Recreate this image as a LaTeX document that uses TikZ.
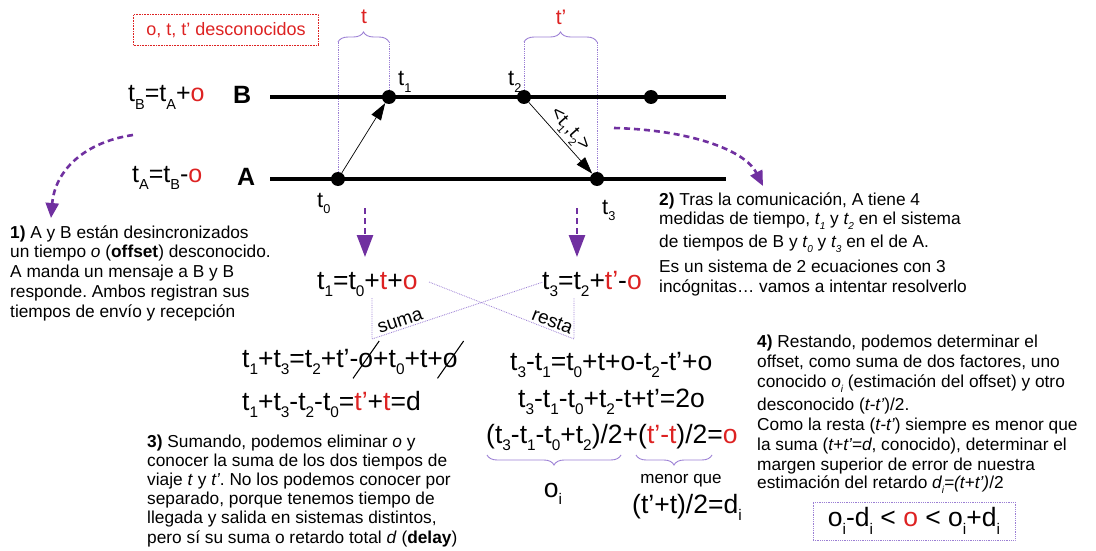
\documentclass[tikz,border=0pt]{standalone}
\usepackage{fontspec}
\setmainfont{Liberation Sans}
\usepackage{graphicx}
\usetikzlibrary{arrows.meta,decorations.pathreplacing}
\definecolor{myred}{HTML}{DD2222}
\definecolor{vio}{HTML}{7030A0}
\definecolor{lav}{HTML}{9B7FD4}
\newcommand\sbs[1]{\raisebox{-0.3em}{\scalebox{0.58}{#1}}}
\newcommand\R[1]{\textcolor{myred}{#1}}
\newcommand\xo{\makebox[0pt][l]{\hspace{-0.22em}\raisebox{-0.44em}{\rotatebox{55}{\rule{1.72em}{0.04em}}}}o}
\frenchspacing
\begin{document}
\begin{tikzpicture}[x=1pt,y=-1pt,
  dot/.style={circle,fill=black,inner sep=0pt,minimum size=14pt},
  tline/.style={line width=4pt},
  msg/.style={-{Triangle[length=17pt,width=11pt]}, line width=0.7pt},
  guide/.style={lav, densely dotted, line width=0.8pt},
  brc/.style={lav, line width=0.9pt, decorate, decoration={brace, amplitude=10pt}},
  flow/.style={vio, line width=2.6pt, dash pattern=on 6pt off 4pt, -{Triangle[length=15pt,width=13pt]}},
  txt/.style={inner sep=0pt, anchor=base west},
  eq/.style={inner sep=0pt, anchor=base west, font=\fontsize{26.5}{30}\selectfont},
  para/.style={inner sep=0pt, anchor=base west, font=\fontsize{17.3}{19.8}\selectfont},
  lbl/.style={inner sep=2pt, text=black, font=\fontsize{19}{22}\selectfont},
]
\useasboundingbox (0,0) rectangle (1096,551);
% positions
\coordinate (p0) at (338,179);
\coordinate (p1) at (389,97);
\coordinate (p2) at (524,97);
\coordinate (p3) at (597,179);
\coordinate (p4) at (651,97);
\coordinate (g0) at (338,42);
\coordinate (g1) at (389,42);
\coordinate (g2) at (524,42);
\coordinate (g3) at (597,42);
\coordinate (Bl) at (270,97);
\coordinate (Br) at (726,97);
\coordinate (Al) at (270,179);
\coordinate (Ar) at (726,179);
% guides and braces
\draw[guide] (p0) -- (g0);
\draw[guide] (p1) -- (g1);
\draw[guide] (p2) -- (g2);
\draw[guide] (p3) -- (g3);
\draw[brc] (g0) -- (g1);
\draw[brc] (g2) -- (g3);
\node[inner sep=0pt, font=\fontsize{21}{24}\selectfont] (lt) at (364,17) {\R{t}};
\node[inner sep=0pt, font=\fontsize{21}{24}\selectfont] (ltp) at (561,17) {\R{t’}};
% unknowns box
\node[draw=myred, densely dotted, line width=0.6pt, minimum width=185pt, minimum height=31pt, font=\fontsize{18}{21}\selectfont] (unk) at (226,30) {\R{o, t, t’ desconocidos}};
% timelines
\draw[tline] (Bl) -- (Br);
\draw[tline] (Al) -- (Ar);
\node[dot] (t0) at (p0) {};
\node[dot] (t1) at (p1) {};
\node[dot] (t2) at (p2) {};
\node[dot] (t3) at (p3) {};
\node[dot] (t4) at (p4) {};
\draw[msg] (t0) -- (t1);
\draw[msg] (t2) -- node[midway, sloped, above, lbl] (msglbl) {<t\sbs{1},t\sbs{2}>} (t3);
% labels
\node[txt, font=\fontsize{25}{30}\selectfont\bfseries] (lB) at (233,103) {B};
\node[txt, font=\fontsize{25}{30}\selectfont\bfseries] (lA) at (237,185) {A};
\node[txt, font=\fontsize{25}{30}\selectfont] (eqB) at (128,102) {t\sbs{B}=t\sbs{A}+\R{o}};
\node[txt, font=\fontsize{25}{30}\selectfont] (eqA) at (132,182) {t\sbs{A}=t\sbs{B}-\R{o}};
\node[txt, font=\fontsize{22}{26}\selectfont] (lt1) at (398,86) {t\sbs{1}};
\node[txt, font=\fontsize{22}{26}\selectfont] (lt2) at (508,86) {t\sbs{2}};
\node[txt, font=\fontsize{22}{26}\selectfont] (lt0) at (317,207) {t\sbs{0}};
\node[txt, font=\fontsize{22}{26}\selectfont] (lt3) at (602,214) {t\sbs{3}};
% flow arrows
\coordinate (f1s) at (133,135);
\coordinate (f1e) at (51,218);
\draw[flow] (f1s) .. controls (85,142) and (55,170) .. (f1e);
\coordinate (f2s) at (614,128);
\coordinate (f2e) at (763,186);
\draw[flow] (f2s) .. controls (690,130) and (745,150) .. (f2e);
\coordinate (d0s) at (365,208);
\coordinate (d0e) at (365,257);
\coordinate (d3s) at (577,208);
\coordinate (d3e) at (577,257);
\draw[flow, -{Triangle[length=22pt,width=16pt]}] (d0s) -- (d0e);
\draw[flow, -{Triangle[length=22pt,width=16pt]}] (d3s) -- (d3e);
% equations
\node[eq] (e1) at (317,289) {t\sbs{1}=t\sbs{0}+\R{t}+\R{o}};
\node[eq] (e2) at (542,289) {t\sbs{3}=t\sbs{2}+\R{t’}-\R{o}};
% suma / resta
\coordinate (s1) at (372,298);
\coordinate (s2) at (372,339);
\coordinate (s3) at (543,282);
\coordinate (r1) at (429,282);
\coordinate (r2) at (574,339);
\coordinate (r3) at (574,298);
\draw[guide] (s1) -- (s2) -- node[pos=0.18, sloped, above, lbl] (suma) {suma} (s3);
\draw[guide] (r1) -- node[pos=0.83, sloped, above, lbl] (resta) {resta} (r2) -- (r3);
\node[eq] (e3) at (242,367) {t\sbs{1}+t\sbs{3}=t\sbs{2}+t’-\xo+t\sbs{0}+t+\xo};
\node[eq] (e4) at (242,410) {t\sbs{1}+t\sbs{3}-t\sbs{2}-t\sbs{0}=\R{t’}+\R{t}=d};
\node[eq] (e5) at (510,370) {t\sbs{3}-t\sbs{1}=t\sbs{0}+t+o-t\sbs{2}-t’+o};
\node[eq] (e6) at (518,407) {t\sbs{3}-t\sbs{1}-t\sbs{0}+t\sbs{2}-t+t’=2o};
\node[eq] (e7) at (486,443) {(t\sbs{3}-t\sbs{1}-t\sbs{0}+t\sbs{2})/2+(\R{t’-t})/2=\R{o}};
\coordinate (bo1) at (487,455);
\coordinate (bo2) at (621,455);
\coordinate (bm1) at (636,455);
\coordinate (bm2) at (712,455);
\draw[brc] (bo2) -- (bo1);
\draw[brc] (bm2) -- (bm1);
\node[inner sep=0pt, anchor=base, font=\fontsize{26.5}{30}\selectfont] (oi) at (553,497) {o\sbs{i}};
\node[inner sep=0pt, anchor=base, font=\fontsize{17}{20}\selectfont] (menor) at (681,483) {menor que};
\node[eq] (e8) at (632,513) {(t’+t)/2=d\sbs{i}};
% inequality box
\node[draw=lav, densely dotted, line width=0.8pt, minimum width=202pt, minimum height=38pt, font=\fontsize{26.5}{30}\selectfont] (ineq) at (914,521) {o\sbs{i}-d\sbs{i} < \R{o} < o\sbs{i}+d\sbs{i}};
% paragraphs
\node[para] (n1) at (10,238) {\parbox[t]{330pt}{\textbf{1)} A y B están desincronizados\\
un tiempo \textit{o} (\textbf{offset}) desconocido.\\
A manda un mensaje a B y B\\
responde. Ambos registran sus\\
tiempos de envío y recepción}};
\node[para] (n2) at (659,205) {\parbox[t]{400pt}{\textbf{2)} Tras la comunicación, A tiene 4\\
medidas de tiempo, \textit{t\sbs{1}} y \textit{t\sbs{2}} en el sistema\\[3pt]
de tiempos de B y \textit{t\sbs{0}} y \textit{t\sbs{3}} en el de A.\\[5pt]
Es un sistema de 2 ecuaciones con 3\\
incógnitas… vamos a intentar resolverlo}};
\node[para, font=\fontsize{17.3}{19.2}\selectfont] (n3) at (147,447) {\parbox[t]{400pt}{\textbf{3)} Sumando, podemos eliminar \textit{o} y\\
conocer la suma de los dos tiempos de\\
viaje \textit{t} y \textit{t’}. No los podemos conocer por\\
separado, porque tenemos tiempo de\\
llegada y salida en sistemas distintos,\\
pero sí su suma o retardo total \textit{d} (\textbf{delay})}};
\node[para, font=\fontsize{17.3}{20}\selectfont] (n4) at (757,347) {\parbox[t]{400pt}{\textbf{4)} Restando, podemos determinar el\\
offset, como suma de dos factores, uno\\
conocido \textit{o\sbs{i}} (estimación del offset) y otro\\[3pt]
desconocido (\textit{t-t’})/2.\\
Como la resta (\textit{t-t’}) siempre es menor que\\
la suma (\textit{t+t’=d}, conocido), determinar el\\
margen superior de error de nuestra\\[-2pt]
estimación del retardo \textit{d\sbs{i}=(t+t’)}/2}};
\end{tikzpicture}
\end{document}
